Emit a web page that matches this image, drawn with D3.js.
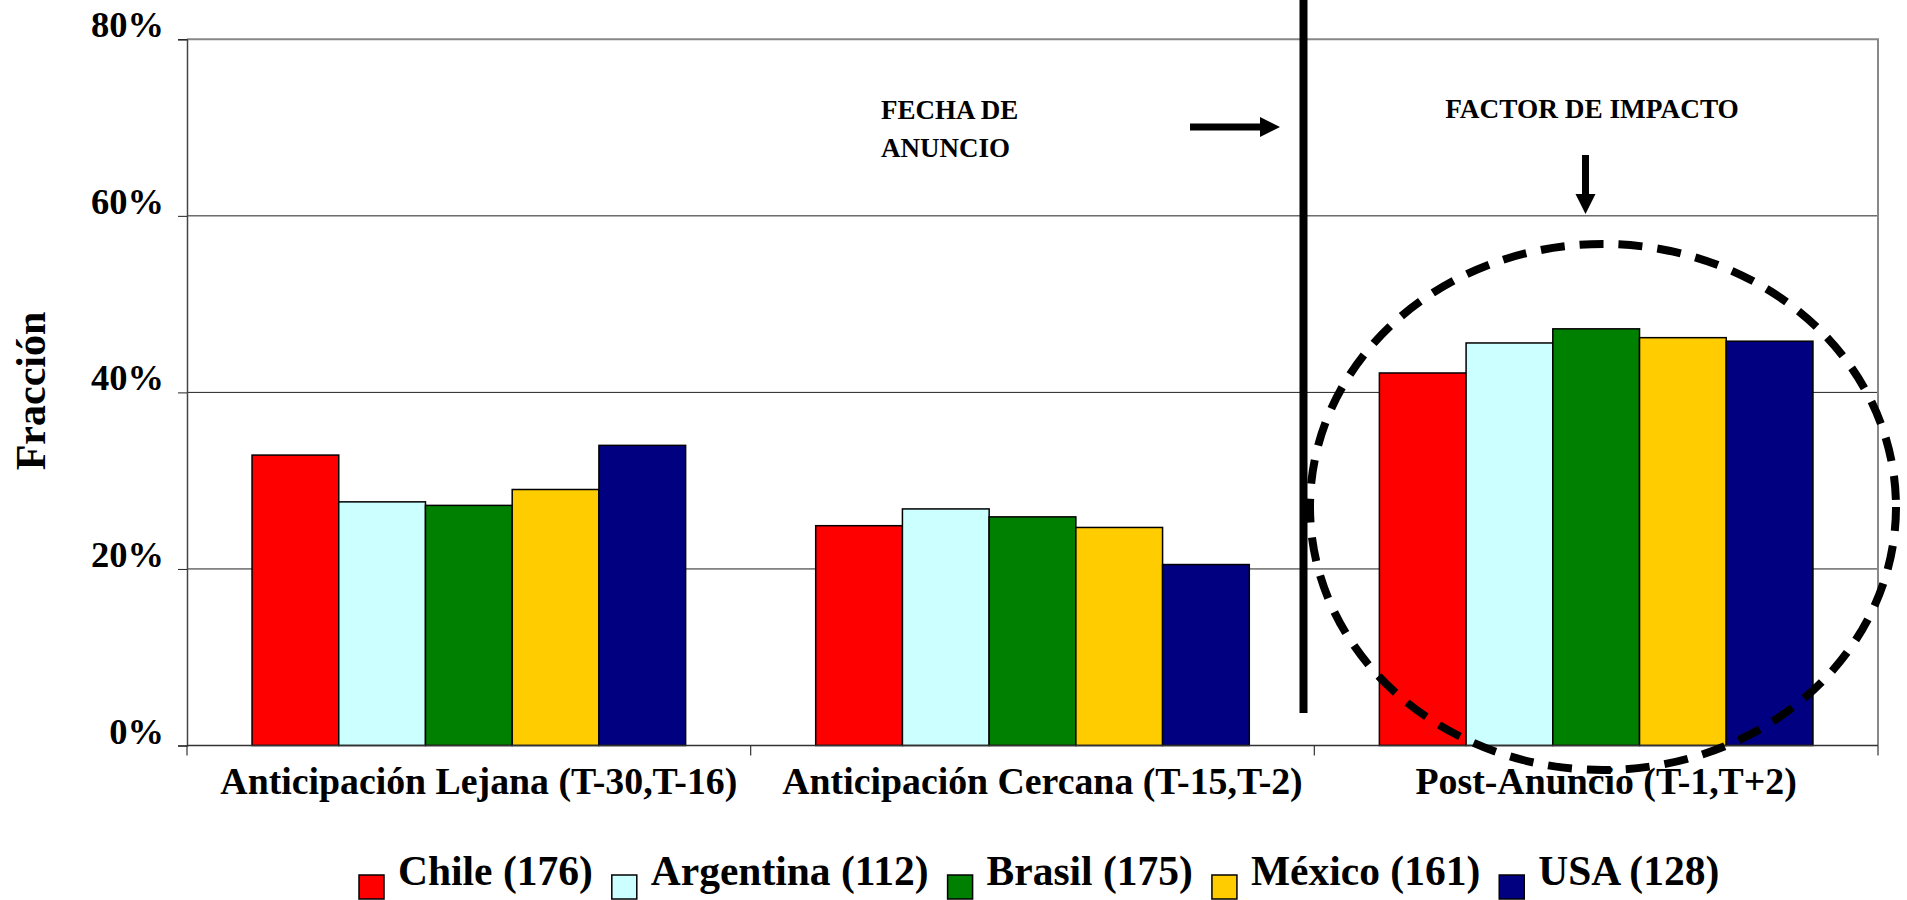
<!DOCTYPE html>
<html>
<head>
<meta charset="utf-8">
<script src="https://cdn.jsdelivr.net/npm/d3@7"></script>
<style>
  html, body { margin: 0; padding: 0; background: #fff; }
  svg { display: block; }
  text { font-family: "Liberation Serif", "Times New Roman", serif; font-weight: bold; fill: #000; }
</style>
</head>
<body>
<svg id="chart" width="1907" height="900"></svg>
<script>
// Periods on the x axis
const categories = [
  "Anticipación Lejana (T-30,T-16)",
  "Anticipación Cercana (T-15,T-2)",
  "Post-Anuncio (T-1,T+2)"
];
// Series (country, sample size) and their fractions per period
const seriesNames = ["Chile (176)", "Argentina (112)", "Brasil (175)", "México (161)", "USA (128)"];
const seriesColors = ["#FF0000", "#CCFFFF", "#008000", "#FFCC00", "#000080"];
const chile     = [0.329, 0.249, 0.422];
const argentina = [0.276, 0.268, 0.456];
const brasil    = [0.272, 0.259, 0.472];
const mexico    = [0.290, 0.247, 0.462];
const usa       = [0.340, 0.205, 0.458];
const yTicks = [0, 0.2, 0.4, 0.6, 0.8];

const seriesValues = [chile, argentina, brasil, mexico, usa];

const svg = d3.select("#chart");
const plotLeft = 187, plotRight = 1878, plotTop = 39.3, plotBottom = 745.5;

const x = d3.scaleBand().domain(categories).range([plotLeft, plotRight]).padding(0);
const xs = d3.scaleBand().domain(seriesNames).range([0, x.bandwidth()])
  .paddingInner(0).paddingOuter(0.75);
const y = d3.scaleLinear().domain([0, 0.8]).range([plotBottom, plotTop]);

// Gridlines
svg.append("g").selectAll("line").data(yTicks.filter(t => t > 0 && t < 0.8)).join("line")
  .attr("x1", plotLeft).attr("x2", plotRight)
  .attr("y1", d => y(d)).attr("y2", d => y(d))
  .attr("stroke", "#222").attr("stroke-width", 1);

// Plot frame (top and right)
svg.append("path")
  .attr("d", `M${plotLeft},${y(0.8)}H${plotRight}V${plotBottom}`)
  .attr("fill", "none").attr("stroke", "#888").attr("stroke-width", 2);

// Bars
const rows = categories.map((c, i) => ({ cat: c, vals: seriesNames.map((s, j) => ({ s, j, v: seriesValues[j][i] })) }));
svg.append("g").selectAll("g").data(rows).join("g")
  .attr("transform", d => `translate(${x(d.cat)},0)`)
  .selectAll("rect").data(d => d.vals).join("rect")
  .attr("x", d => xs(d.s)).attr("width", xs.bandwidth())
  .attr("y", d => y(d.v)).attr("height", d => y(0) - y(d.v))
  .attr("fill", d => seriesColors[d.j])
  .attr("stroke", "#000").attr("stroke-width", 1.5);

// Y axis
const yAxis = svg.append("g").attr("transform", `translate(${plotLeft},0)`)
  .call(d3.axisLeft(y).tickValues(yTicks).tickFormat(d3.format(".0%")).tickSize(9).tickPadding(0));
yAxis.select(".domain").attr("stroke", "#444").attr("stroke-width", 1.5);
yAxis.selectAll(".tick line").attr("stroke", "#222");
yAxis.selectAll(".tick text")
  .attr("x", -23).attr("dy", "-2.5px")
  .attr("font-size", 36.5).attr("font-family", "Liberation Serif").attr("font-weight", "bold").attr("fill", "#000");

// X axis (ticks at period boundaries)
const xAxisG = svg.append("g").attr("transform", `translate(0,${plotBottom})`);
xAxisG.append("line").attr("x1", plotLeft).attr("x2", plotRight).attr("y1", 0).attr("y2", 0)
  .attr("stroke", "#333").attr("stroke-width", 1.5);
const bounds = categories.map(c => x(c)).concat([x(categories[categories.length - 1]) + x.bandwidth()]);
xAxisG.selectAll("line.tk").data(bounds).join("line").attr("class", "tk")
  .attr("x1", d => d).attr("x2", d => d).attr("y1", 0).attr("y2", 10)
  .attr("stroke", "#333").attr("stroke-width", 1.2);
xAxisG.selectAll("text").data(categories).join("text")
  .attr("x", d => x(d) + x.bandwidth() / 2 + 10).attr("y", 48)
  .attr("text-anchor", "middle").attr("font-size", 37.8)
  .text(d => d);

// Y axis title
svg.append("text")
  .attr("transform", "translate(45,391) rotate(-90)")
  .attr("text-anchor", "middle").attr("font-size", 42)
  .text("Fracción");

// Announcement date marker
const annX = 1303.5;
svg.append("line").attr("x1", annX).attr("x2", annX).attr("y1", 0).attr("y2", 713)
  .attr("stroke", "#000").attr("stroke-width", 8);

const fecha = svg.append("text").attr("font-size", 27).attr("x", 881).attr("y", 119);
fecha.append("tspan").attr("x", 881).text("FECHA DE");
fecha.append("tspan").attr("x", 881).attr("dy", 37.7).text("ANUNCIO");

// Right-pointing arrow
svg.append("line").attr("x1", 1190).attr("x2", 1262).attr("y1", 127).attr("y2", 127)
  .attr("stroke", "#000").attr("stroke-width", 7);
svg.append("path").attr("d", "M1260,117L1280,127L1260,137Z").attr("fill", "#000");

// Impact factor label and down arrow
svg.append("text").attr("x", 1592).attr("y", 118).attr("text-anchor", "middle")
  .attr("font-size", 27.3).text("FACTOR DE IMPACTO");
svg.append("line").attr("x1", 1585.5).attr("x2", 1585.5).attr("y1", 155).attr("y2", 196)
  .attr("stroke", "#000").attr("stroke-width", 7);
svg.append("path").attr("d", "M1575.5,194L1595.5,194L1585.5,214Z").attr("fill", "#000");

// Dashed ellipse around the post-announcement group
svg.append("ellipse")
  .attr("cx", 1603).attr("cy", 507).attr("rx", 293).attr("ry", 263)
  .attr("fill", "none").attr("stroke", "#000").attr("stroke-width", 8)
  .attr("stroke-dasharray", "24,15");

// Legend
const legend = svg.append("g").attr("transform", "translate(359,0)");
let lx = 0;
seriesNames.forEach((s, i) => {
  legend.append("rect").attr("x", lx).attr("y", 875).attr("width", 25).attr("height", 24)
    .attr("fill", seriesColors[i]).attr("stroke", "#000").attr("stroke-width", 1.5);
  const t = legend.append("text").attr("x", lx + 39).attr("y", 885).attr("font-size", 41.5).text(s);
  lx += 39 + t.node().getComputedTextLength() + 19;
});
</script>
</body>
</html>
